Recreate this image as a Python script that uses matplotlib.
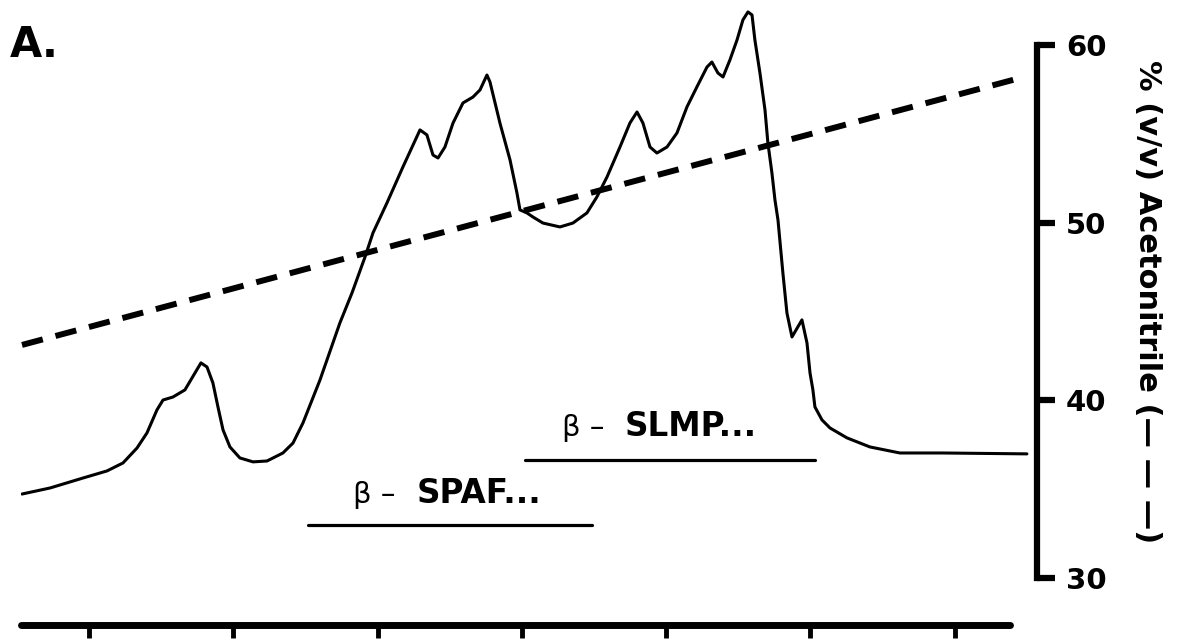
import matplotlib
matplotlib.use("Agg")
import matplotlib.pyplot as plt
import numpy as np

plt.rcParams['font.family'] = ['DejaVu Sans']

# Chromatogram trace (x in tick units, y in arbitrary absorbance expressed on the % scale)
time = [-0.464, -0.270, -0.042, 0.125, 0.236, 0.333, 0.402, 0.471, 0.513, 0.582,
        0.665, 0.714, 0.776, 0.818, 0.859, 0.894, 0.929, 0.977, 1.046, 1.137,
        1.234, 1.344, 1.414, 1.483, 1.601, 1.739, 1.823, 1.913, 1.968, 2.065,
        2.176, 2.294, 2.342, 2.384, 2.419, 2.467, 2.523, 2.592, 2.661, 2.710,
        2.758, 2.779, 2.848, 2.918, 2.966, 2.987, 3.035, 3.077, 3.146, 3.264,
        3.354, 3.451, 3.520, 3.590, 3.680, 3.749, 3.798, 3.839, 3.888, 3.936,
        4.006, 4.075, 4.144, 4.213, 4.283, 4.317, 4.359, 4.394, 4.442, 4.491,
        4.532, 4.567, 4.595, 4.615, 4.650, 4.685, 4.705, 4.733, 4.754, 4.775,
        4.809, 4.837, 4.872, 4.941, 4.976, 4.997, 5.017, 5.031, 5.080, 5.135,
        5.253, 5.412, 5.620, 5.918, 6.500]
absorbance = [34.73, 35.07, 35.63, 36.03, 36.48, 37.32, 38.17, 39.46, 40.02, 40.19,
              40.59, 41.26, 42.11, 41.88, 40.98, 39.63, 38.34, 37.38, 36.76, 36.54,
              36.59, 37.04, 37.60, 38.73, 41.15, 44.36, 46.05, 48.07, 49.42, 51.11,
              53.14, 55.22, 54.94, 53.81, 53.64, 54.26, 55.61, 56.74, 57.07, 57.47,
              58.31, 57.92, 55.61, 53.53, 51.67, 50.72, 50.55, 50.32, 49.98, 49.76,
              49.98, 50.55, 51.45, 52.57, 54.26, 55.61, 56.23, 55.61, 54.26, 53.92,
              54.26, 55.05, 56.51, 57.64, 58.76, 59.04, 58.42, 58.20, 59.16, 60.28,
              61.41, 61.86, 61.69, 60.28, 58.42, 56.34, 54.49, 52.80, 51.28, 50.15,
              47.17, 44.92, 43.57, 44.53, 43.23, 41.54, 40.59, 39.63, 38.90, 38.45,
              37.89, 37.38, 37.04, 37.04, 36.99]

# Acetonitrile gradient (dashed)
grad_time = [-0.464, 6.452]
grad_pct = [43.12, 58.14]

# Fraction bars
frac_names = ["SPAF...", "SLMP..."]
frac_start = [1.518, 3.021]
frac_end = [3.486, 5.031]
frac_level = [33.0, 36.65]

xticks = [0, 1, 2, 3, 4, 5, 6]
yticks = [30, 40, 50, 60]

fig = plt.figure(figsize=(11.82, 6.43), dpi=100)
ax = fig.add_axes([21/1182, 18/643, (1037-21)/1182, 620/643])

ax.plot(time, absorbance, color='black', lw=2.2, solid_joinstyle='round', solid_capstyle='round')
ax.plot(grad_time, grad_pct, color='black', lw=4.3, dashes=(3.6, 2.2))

for name, s, e, lev in zip(frac_names, frac_start, frac_end, frac_level):
    ax.plot([s, e], [lev, lev], color='black', lw=2.3, solid_capstyle='round')

# labels for fractions
ax.text(1.83, 34.25, "β –", fontsize=21, ha='left', va='baseline')
ax.text(2.27, 34.25, frac_names[0], fontsize=23.5, fontweight='bold', ha='left', va='baseline')
ax.text(3.278, 38.0, "β –", fontsize=21, ha='left', va='baseline')
ax.text(3.714, 38.0, frac_names[1], fontsize=23.5, fontweight='bold', ha='left', va='baseline')

ax.set_xlim(-0.471, 6.570)
ax.set_ylim(27.36, 62.25)

for s in ['top', 'left']:
    ax.spines[s].set_visible(False)
ax.spines['bottom'].set_bounds(-0.471, 6.383)
ax.spines['bottom'].set_linewidth(5)
ax.spines['bottom'].set_capstyle('round')
ax.spines['right'].set_bounds(30, 60)
ax.spines['right'].set_linewidth(4.5)

ax.set_xticks(xticks)
ax.set_xticklabels([])
ax.tick_params(axis='x', direction='out', length=9, width=3.5)

ax.yaxis.tick_right()
ax.set_yticks(yticks)
ax.set_yticklabels([str(v) for v in yticks], fontsize=21, fontweight='bold')
ax.tick_params(axis='y', direction='out', length=13, width=4.5, pad=8)

ax.yaxis.set_label_position('right')
ax.set_ylabel("% (v/v) Acetonitrile (— — —)", rotation=270, fontsize=22, fontweight='bold')
ax.yaxis.set_label_coords(1.123, 0.521)

fig.text(10/1182, 1 - 57/643, "A.", fontsize=30, fontweight='bold', ha='left', va='baseline')

fig.savefig("out.png", dpi=100)
